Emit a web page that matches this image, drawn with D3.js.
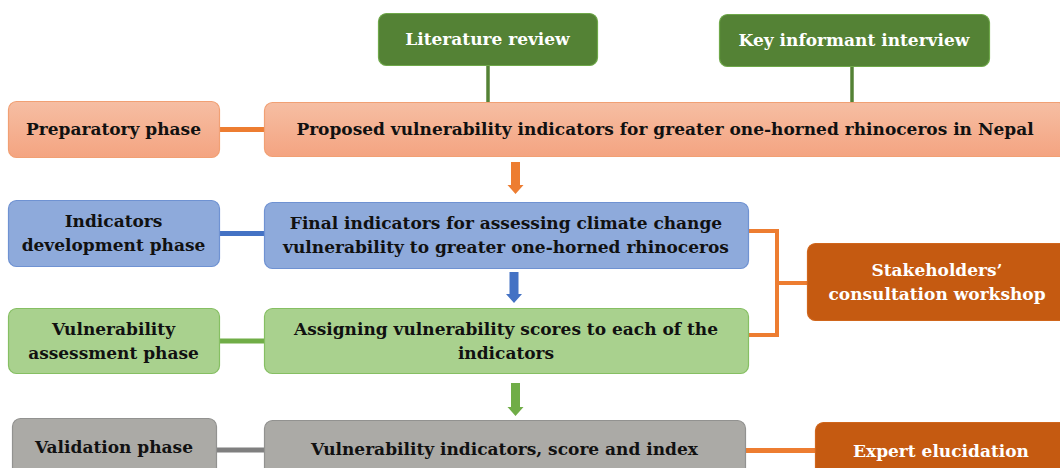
<!DOCTYPE html>
<html>
<head>
<meta charset="utf-8">
<script src="https://cdn.jsdelivr.net/npm/d3@7"></script>
<style>
  html, body { margin: 0; padding: 0; background: #ffffff; overflow: hidden; }
  svg { display: block; }
  text { font-family: "DejaVu Serif", Georgia, serif; font-weight: bold; }
</style>
</head>
<body>
<script>
// node labels, one array per column of the diagram
var phaseLabels = [
  ["Preparatory phase"],
  ["Indicators", "development phase"],
  ["Vulnerability", "assessment phase"],
  ["Validation phase"]
];
var stepLabels = [
  ["Proposed vulnerability indicators for greater one-horned rhinoceros in Nepal"],
  ["Final indicators for assessing climate change", "vulnerability to greater one-horned rhinoceros"],
  ["Assigning vulnerability scores to each of the", "indicators"],
  ["Vulnerability indicators, score and index"]
];
var sourceLabels = [["Literature review"], ["Key informant interview"]];
var reviewLabels = [["Stakeholders\u2019", "consultation workshop"], ["Expert elucidation"]];

// layout (pixels)
var width = 1060, height = 468;
var phaseBoxes = [
  {x: 8, y: 101, w: 211, h: 56},
  {x: 8, y: 200, w: 211, h: 66},
  {x: 8, y: 308, w: 211, h: 65},
  {x: 12, y: 418, w: 204, h: 62}
];
var stepBoxes = [
  {x: 264, y: 102, w: 802, h: 54},
  {x: 264, y: 202, w: 484, h: 66},
  {x: 264, y: 308, w: 484, h: 65},
  {x: 264, y: 420, w: 481, h: 62}
];
var sourceBoxes = [
  {x: 378, y: 13, w: 219, h: 52},
  {x: 719, y: 14, w: 270, h: 52}
];
var reviewBoxes = [
  {x: 807, y: 243, w: 260, h: 77},
  {x: 815, y: 422, w: 252, h: 62}
];

var phaseStyle = [
  {fill: "url(#gOrange)", stroke: "#f1a074", line: "#ed7d31"},
  {fill: "#8eaadb", stroke: "#6f92d2", line: "#4472c4"},
  {fill: "#a9d18e", stroke: "#86bf63", line: "#70ad47"},
  {fill: "#abaaa6", stroke: "#929290", line: "#7f7f7f"}
];

var svg = d3.select("body").append("svg")
  .attr("width", width)
  .attr("height", height);

var defs = svg.append("defs");
var grad = defs.append("linearGradient")
  .attr("id", "gOrange")
  .attr("x1", 0).attr("y1", 0).attr("x2", 0).attr("y2", 1);
grad.append("stop").attr("offset", "0%").attr("stop-color", "#f6bea3");
grad.append("stop").attr("offset", "100%").attr("stop-color", "#f4a481");

var lineLayer = svg.append("g");
var boxLayer = svg.append("g");

function drawBox(b, lines, fill, stroke, textColor) {
  var g = boxLayer.append("g");
  g.append("rect")
    .attr("x", b.x + 0.5)
    .attr("y", b.y + 0.5)
    .attr("width", b.w)
    .attr("height", b.h)
    .attr("rx", 8)
    .attr("fill", fill)
    .attr("stroke", stroke)
    .attr("stroke-width", 1.2);
  var lh = 24;
  // boxes cut by the bottom edge keep their text where the reference has it
  var cy = (b.y + b.h > height) ? b.y + 29 : b.y + b.h / 2;
  var first = cy - (lines.length - 1) * lh / 2 + 6;
  g.selectAll("text")
    .data(lines)
    .enter()
    .append("text")
    .attr("x", b.x + b.w / 2)
    .attr("y", function(d, i) { return first + i * lh; })
    .attr("text-anchor", "middle")
    .attr("font-size", "17px")
    .attr("fill", textColor)
    .text(function(d) { return d; });
}

// links phase -> step
phaseBoxes.forEach(function(p, i) {
  var s = stepBoxes[i];
  var y = (i == 3) ? 450 : p.y + p.h / 2 + 0.5;
  lineLayer.append("line")
    .attr("x1", p.x + p.w).attr("x2", s.x)
    .attr("y1", y).attr("y2", y)
    .attr("stroke", phaseStyle[i].line)
    .attr("stroke-width", 5);
});

// source boxes down to first step
sourceBoxes.forEach(function(b, i) {
  var x = b.x + (i == 0 ? 110 : 133);
  lineLayer.append("line")
    .attr("x1", x).attr("x2", x)
    .attr("y1", b.y + b.h).attr("y2", stepBoxes[0].y)
    .attr("stroke", "#548235")
    .attr("stroke-width", 3.5);
});

// bracket to stakeholders workshop
var bx = 777;
lineLayer.append("path")
  .attr("d", "M" + (stepBoxes[1].x + stepBoxes[1].w) + "," + 231 +
             "H" + bx + "V" + 335 + "H" + (stepBoxes[2].x + stepBoxes[2].w))
  .attr("fill", "none")
  .attr("stroke", "#ed7d31")
  .attr("stroke-width", 4);
lineLayer.append("line")
  .attr("x1", bx).attr("x2", reviewBoxes[0].x)
  .attr("y1", 283).attr("y2", 283)
  .attr("stroke", "#ed7d31")
  .attr("stroke-width", 4);

// link validation step -> expert elucidation
lineLayer.append("line")
  .attr("x1", stepBoxes[3].x + stepBoxes[3].w).attr("x2", reviewBoxes[1].x)
  .attr("y1", 450.5).attr("y2", 450.5)
  .attr("stroke", "#ed7d31")
  .attr("stroke-width", 5);

// block arrows between steps
var arrowColors = ["#ed7d31", "#4472c4", "#70ad47"];
var arrowX = [515.5, 514, 515.5];
var arrowTop = [162, 272, 383];
var arrowBottom = [194, 303, 416];
arrowColors.forEach(function(c, i) {
  var x = arrowX[i], t = arrowTop[i], b = arrowBottom[i];
  var sw = 4.5, hw = 8, hh = 9;
  lineLayer.append("path")
    .attr("d", "M" + (x - sw) + "," + t + "H" + (x + sw) + "V" + (b - hh) +
               "H" + (x + hw) + "L" + x + "," + b + "L" + (x - hw) + "," + (b - hh) +
               "H" + (x - sw) + "Z")
    .attr("fill", c);
});

phaseBoxes.forEach(function(b, i) {
  drawBox(b, phaseLabels[i], phaseStyle[i].fill, phaseStyle[i].stroke, "#111111");
});
stepBoxes.forEach(function(b, i) {
  drawBox(b, stepLabels[i], phaseStyle[i].fill, phaseStyle[i].stroke, "#111111");
});
sourceBoxes.forEach(function(b, i) {
  drawBox(b, sourceLabels[i], "#548235", "#6fa84a", "#ffffff");
});
reviewBoxes.forEach(function(b, i) {
  drawBox(b, reviewLabels[i], "#c55a11", "#d0661c", "#ffffff");
});
</script>
</body>
</html>
